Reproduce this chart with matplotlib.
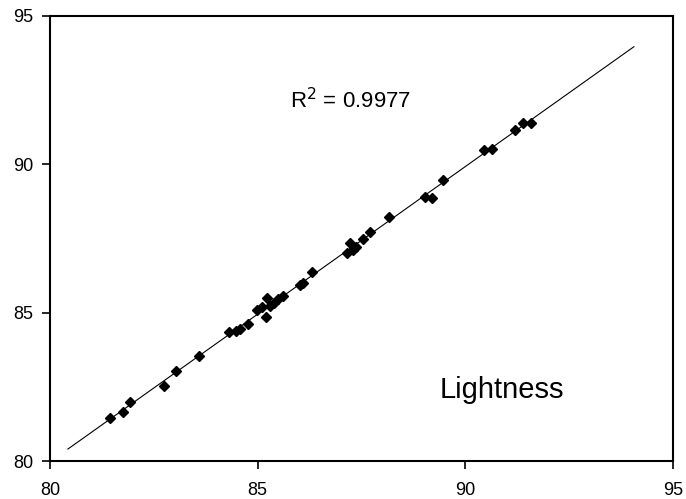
import numpy as np
import matplotlib.pyplot as plt

plt.rcParams['font.family'] = ['Liberation Sans', 'DejaVu Sans']

# measured vs predicted lightness
measured = [81.44, 81.76, 81.93, 82.74, 83.03, 83.59, 84.31, 84.48, 84.57, 84.77,
            84.98, 85.10, 85.23, 85.20, 85.30, 85.39, 85.49, 85.61, 86.02, 86.09,
            86.31, 87.15, 87.22, 87.30, 87.37, 87.54, 87.71, 88.16, 89.03, 89.20,
            89.46, 90.45, 90.64, 91.20, 91.39, 91.58]
predicted = [81.45, 81.65, 81.99, 82.53, 83.03, 83.54, 84.35, 84.38, 84.45, 84.62,
             85.09, 85.19, 85.49, 84.85, 85.22, 85.33, 85.46, 85.56, 85.93, 86.00,
             86.37, 87.01, 87.35, 87.11, 87.21, 87.48, 87.72, 88.22, 88.90, 88.86,
             89.47, 90.48, 90.52, 91.16, 91.39, 91.39]
trend_span = [80.43, 94.06]
ticks = [80, 85, 90, 95]

fig = plt.figure(figsize=(6.86, 4.99), dpi=100)
ax = fig.add_axes([0.073, 0.076, 0.908, 0.892])

# linear trendline, extended both ways
coef = np.polyfit(measured, predicted, 1)
tx = np.array(trend_span)
ax.plot(tx, np.polyval(coef, tx), color='black', lw=0.8)

ax.plot(measured, predicted, 'D', color='black', ms=5.5, mec='black')

ax.set_xlim(80, 95)
ax.set_ylim(80, 95)
ax.set_xticks(ticks)
ax.set_yticks(ticks)
ax.tick_params(labelsize=13, length=6, width=1.2, direction='out', color='black')
ax.tick_params(axis='x', pad=9)
ax.tick_params(axis='y', pad=6)
for s in ax.spines.values():
    s.set_linewidth(1.5)

ax.text(0.385, 0.81, 'R$^2$ = 0.9977', transform=ax.transAxes, fontsize=16,
        va='center')
ax.text(0.626, 0.16, 'Lightness', transform=ax.transAxes, fontsize=21,
        va='center')

fig.savefig('out.png', dpi=100)
